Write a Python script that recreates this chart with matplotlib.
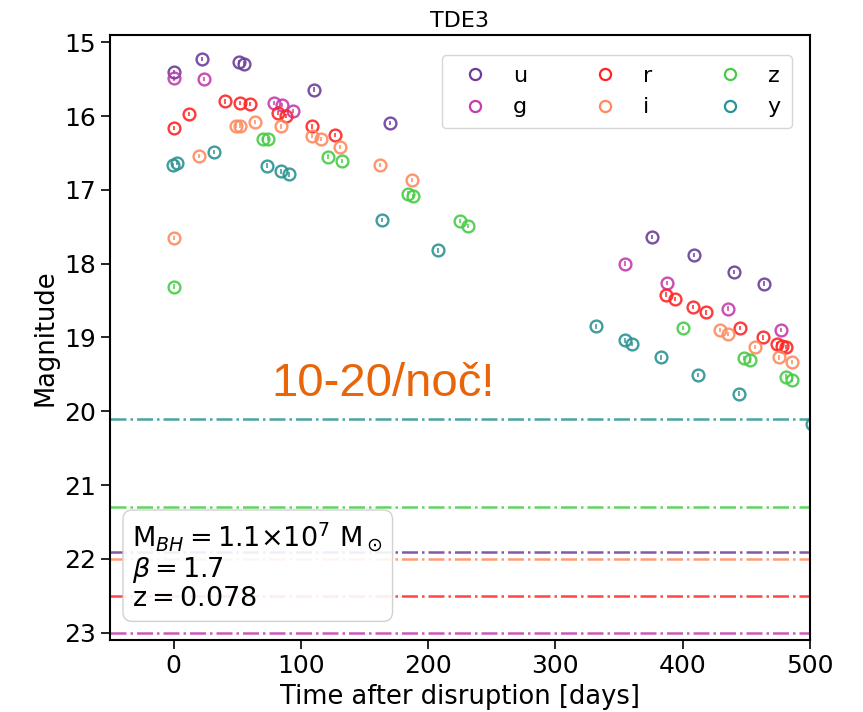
import matplotlib
matplotlib.use("Agg")
import matplotlib.pyplot as plt
from matplotlib.lines import Line2D

# light curve points (days after disruption, magnitude)
bands = ["u", "g", "r", "i", "z", "y"]
colors = ["#6a3d9a", "#c63cab", "#ff2424", "#ff8a5c", "#47cc47", "#2b9393"]

u_days = [0, 22, 51, 55, 110, 170, 376, 409, 440, 464]
u_mag = [15.40, 15.23, 15.27, 15.29, 15.64, 16.09, 17.64, 17.88, 18.11, 18.27]
g_days = [0, 24, 79, 85, 94, 355, 388, 436, 477]
g_mag = [15.49, 15.50, 15.82, 15.85, 15.93, 18.00, 18.26, 18.61, 18.90]
r_days = [0, 12, 40, 52, 60, 82, 88, 109, 127, 387, 394, 408, 418, 445, 463, 474, 478, 481]
r_mag = [16.16, 15.97, 15.80, 15.82, 15.84, 15.96, 16.00, 16.14, 16.26,
         18.42, 18.48, 18.59, 18.66, 18.87, 19.00, 19.09, 19.11, 19.13]
i_days = [0, 20, 49, 52, 64, 84, 109, 116, 131, 162, 187, 429, 436, 457, 476, 486]
i_mag = [17.65, 16.54, 16.13, 16.13, 16.08, 16.14, 16.27, 16.31, 16.42, 16.66, 16.87,
         18.90, 18.95, 19.13, 19.27, 19.33]
z_days = [0, 70, 74, 121, 132, 184, 188, 225, 231, 400, 448, 453, 481, 486]
z_mag = [18.31, 16.31, 16.31, 16.55, 16.61, 17.05, 17.08, 17.42, 17.49, 18.87,
         19.28, 19.31, 19.53, 19.57]
y_days = [-0.5, 3, 32, 73, 84, 91, 164, 208, 332, 355, 360, 383, 412, 444, 502]
y_mag = [16.66, 16.63, 16.49, 16.67, 16.75, 16.79, 17.41, 17.82, 18.85, 19.04, 19.09,
         19.27, 19.51, 19.76, 20.17]

# 5-sigma depth per band
limits = [21.9, 23.0, 22.5, 22.0, 21.3, 20.1]

days = [u_days, g_days, r_days, i_days, z_days, y_days]
mags = [u_mag, g_mag, r_mag, i_mag, z_mag, y_mag]

fig = plt.figure(figsize=(8.63, 7.12), dpi=100)
ax = fig.add_axes([0.1275, 0.101, 0.811, 0.850])

for b, c, d, m, lim in zip(bands, colors, days, mags, limits):
    ax.errorbar(d, m, yerr=0.03, fmt="o", mfc="none", mec=c, ecolor=c,
                ms=8.5, mew=1.7, elinewidth=1.2, capsize=0, alpha=0.9)
    ax.axhline(lim, color=c, ls="-.", lw=1.8, alpha=0.85)

handles = [Line2D([], [], ls="none", marker="o", mfc="none", mec=c, ms=8, mew=1.6)
           for c in colors]
leg = ax.legend(handles, bands, loc="upper right", ncol=3, fontsize=16,
                columnspacing=2.5, handletextpad=0.7, borderpad=0.5,
                bbox_to_anchor=(0.99, 0.985), frameon=True, fancybox=True)
leg.get_frame().set_edgecolor("#cccccc")

ax.text(0.032, 0.198,
        "M$_{BH}=1.1{\\times}10^7$ M$_\\odot$\n$\\beta=1.7$\nz$=0.078$",
        transform=ax.transAxes, fontsize=19.5, va="top", ha="left", linespacing=1.05,
        bbox=dict(boxstyle="round,pad=0.35", fc="white", ec="#cccccc", alpha=0.9))

ax.text(77, 19.79, "10-20/noč!", color="#e8650a", fontsize=34,
        family="Liberation Sans", ha="left", va="baseline")

ax.set_xlim(-50, 500)
ax.set_ylim(23.1, 14.9)
ax.set_xticks([0, 100, 200, 300, 400, 500])
ax.set_yticks(range(15, 24))
ax.tick_params(labelsize=18, length=6.5, width=1.2)
for s in ax.spines.values():
    s.set_linewidth(1.5)
ax.set_xlabel("Time after disruption [days]", fontsize=18.5)
ax.set_ylabel("Magnitude", fontsize=18.5)
ax.set_title("TDE3", fontsize=16)

fig.savefig("out.png", dpi=100)
